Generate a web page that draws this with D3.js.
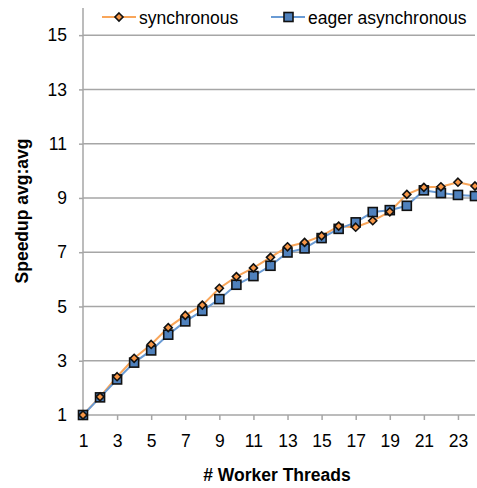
<!DOCTYPE html>
<html><head><meta charset="utf-8">
<script src="https://d3js.org/d3.v7.min.js"></script>
<style>body{margin:0;background:#fff}svg{display:block;font-family:"Liberation Sans",Arial,sans-serif}</style>
</head><body><svg id="c" width="477" height="488"></svg>
<script>
const threads = d3.range(1, 25);
const synchronous = [1.00,1.67,2.41,3.09,3.60,4.22,4.67,5.05,5.67,6.10,6.42,6.81,7.20,7.36,7.60,7.96,7.92,8.16,8.49,9.13,9.39,9.41,9.58,9.44];
const eagerAsync = [1.00,1.65,2.31,2.93,3.38,3.96,4.45,4.84,5.27,5.80,6.12,6.50,6.99,7.14,7.52,7.86,8.10,8.48,8.55,8.71,9.28,9.18,9.11,9.07];
const yTicks = [1,3,5,7,9,11,13,15];
const xTicks = [1,3,5,7,9,11,13,15,17,19,21,23];
const seriesNames = ["synchronous","eager asynchronous"];

const svg = d3.select("#c");
const x = d3.scaleLinear().domain([1,24]).range([83,475]);
const y = d3.scaleLinear().domain([1,16]).range([415,8]);
const fs = "17.5px";
const grid = "#a6a6a6";

svg.append("g").selectAll("line").data(yTicks.filter(d=>d>1)).join("line")
  .attr("x1",x(1)).attr("x2",x(24)).attr("y1",d=>y(d)).attr("y2",d=>y(d))
  .attr("stroke",grid).attr("stroke-width",1.5);

const ya = svg.append("g").attr("transform",`translate(${x(1)},0)`)
  .call(d3.axisLeft(y).tickValues(yTicks).tickSize(4).tickPadding(12));
ya.select(".domain").attr("stroke",grid).attr("stroke-width",1.5).attr("d",`M-0,${y(16)}V${y(1)}`);
ya.selectAll(".tick line").attr("stroke",grid).attr("stroke-width",1.5);
ya.selectAll("text").attr("font-size",fs).attr("fill","#000").attr("font-family","Liberation Sans, Arial, sans-serif");

const xa = svg.append("g").attr("transform",`translate(0,${y(1)})`)
  .call(d3.axisBottom(x).tickValues(xTicks).tickFormat(d3.format("d")).tickSize(5).tickPadding(15));
xa.select(".domain").attr("stroke",grid).attr("stroke-width",1.5).attr("d",`M${x(1)},0H${x(24)}`);
xa.selectAll(".tick line").attr("stroke",grid).attr("stroke-width",1.5);
xa.selectAll("text").attr("font-size",fs).attr("fill","#000").attr("font-family","Liberation Sans, Arial, sans-serif");

svg.append("text").attr("x",(x(1)+x(24))/2 - 2).attr("y",481).attr("text-anchor","middle")
  .attr("font-size",fs).attr("font-weight","bold").text("# Worker Threads");
svg.append("text").attr("transform","translate(27.5,211) rotate(-90)").attr("text-anchor","middle")
  .attr("font-size",fs).attr("font-weight","bold").text("Speedup avg:avg");

const orangeLine = "#F9A65A", orangeFill = "#F79646";
const blueLine = "#6A9BD4", blueFill = "#4F81BD";
const line = d3.line().x((d,i)=>x(threads[i])).y(d=>y(d));
const diamond = "M0,-4L4,0L0,4L-4,0Z";

const plot = svg.append("g");
plot.append("path").attr("d",line(synchronous)).attr("fill","none").attr("stroke",orangeLine).attr("stroke-width",2);
plot.append("path").attr("d",line(eagerAsync)).attr("fill","none").attr("stroke",blueLine).attr("stroke-width",2);

plot.selectAll(".sq").data(eagerAsync).join("rect").attr("class","sq")
  .attr("x",(d,i)=>x(threads[i])-4.5).attr("y",d=>y(d)-4.5).attr("width",9).attr("height",9)
  .attr("fill",blueFill).attr("stroke","#111").attr("stroke-width",1.6);
plot.selectAll(".dm").data(synchronous).join("path").attr("class","dm")
  .attr("transform",(d,i)=>`translate(${x(threads[i])},${y(d)})`).attr("d",diamond)
  .attr("fill",orangeFill).attr("stroke","#111").attr("stroke-width",1.6);

const lg = svg.append("g");
lg.append("line").attr("x1",102).attr("x2",136).attr("y1",17).attr("y2",17).attr("stroke",orangeLine).attr("stroke-width",2);
lg.append("path").attr("transform","translate(119,17)").attr("d",diamond).attr("fill",orangeFill).attr("stroke","#111").attr("stroke-width",1.6);
lg.append("text").attr("x",139).attr("y",24).attr("font-size",fs).text(seriesNames[0]);
lg.append("line").attr("x1",271).attr("x2",305).attr("y1",17).attr("y2",17).attr("stroke",blueLine).attr("stroke-width",2);
lg.append("rect").attr("x",284).attr("y",12.5).attr("width",9).attr("height",9).attr("fill",blueFill).attr("stroke","#111").attr("stroke-width",1.6);
lg.append("text").attr("x",308).attr("y",24).attr("font-size",fs).text(seriesNames[1]);
</script></body></html>
